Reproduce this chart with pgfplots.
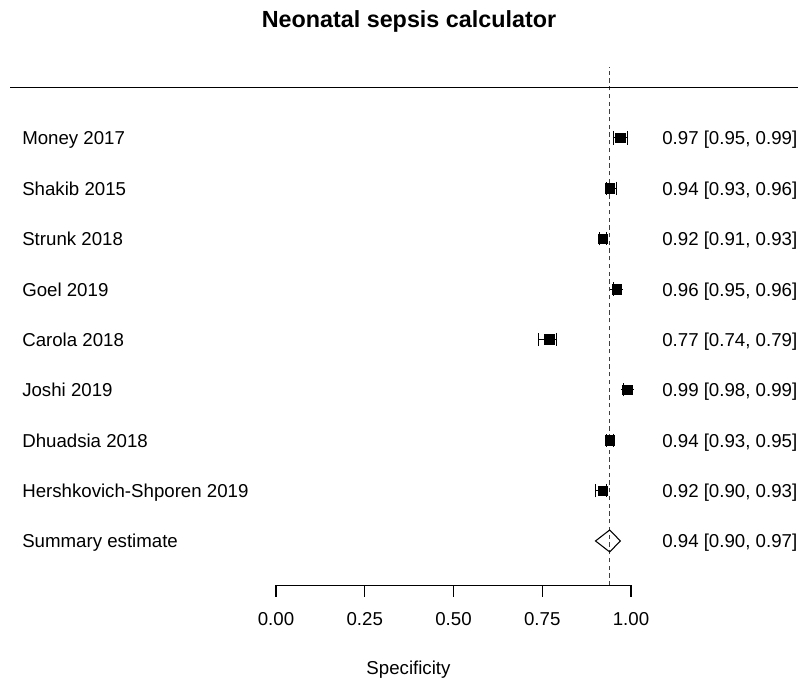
\documentclass[border=0pt]{standalone}
\usepackage{fontspec}
\setmainfont{Liberation Sans}
\usepackage{pgfplots}
\pgfplotsset{compat=1.18}
\usepackage{pgfplotstable}

% y = row (9 = top), est, lower, upper
\pgfplotstableread{
y est lo hi
9 0.97 0.95 0.99
8 0.94 0.93 0.96
7 0.92 0.91 0.93
6 0.96 0.95 0.96
5 0.77 0.74 0.79
4 0.99 0.98 0.99
3 0.94 0.93 0.95
2 0.92 0.90 0.93
}\studies

\newcommand{\lab}{\fontsize{14}{16.8}\selectfont}

\begin{document}
\begin{tikzpicture}
\begin{axis}[
  scale only axis,
  width=266.25pt, height=373.3pt,
  xmin=0, xmax=1, ymin=0.12, ymax=10,
  axis x line=bottom, axis y line=none,
  x axis line style={-, line width=0.8pt},
  xtick={0,0.25,0.5,0.75,1},
  xticklabels={0.00,0.25,0.50,0.75,1.00},
  tick align=outside, major tick length=8.6pt,
  tick style={black, line width=0.8pt},
  xticklabel style={font=\lab, yshift=-8pt},
  clip=false,
]
% reference line at summary estimate
\addplot[black!75, line width=1.1pt, dash pattern=on 3.2pt off 2.6pt] coordinates {(0.94,0.12) (0.94,10.41)};
% top rule
\addplot[black, line width=0.8pt] coordinates {(-0.7493,10) (1.4704,10)};

\addplot[black, only marks, mark=square*, mark size=3.6pt,
  error bars/.cd, x dir=both, x explicit,
  error bar style={line width=0.8pt, black},
  error mark options={black, rotate=90, mark size=5pt, line width=0.8pt}]
  table[x=est, y=y,
    x error plus expr=\thisrow{hi}-\thisrow{est},
    x error minus expr=\thisrow{est}-\thisrow{lo}] {\studies};

% summary diamond
\addplot[black, line width=0.8pt, mark=none] coordinates {(0.90,1) (0.94,1.218) (0.97,1) (0.94,0.782)} -- cycle;

\begin{scope}[every node/.style={font=\lab, inner sep=0pt}]
\node[anchor=base west, yshift=-5.25pt] at (axis cs:-0.7155,9) {Money 2017};
\node[anchor=base west, yshift=-5.25pt] at (axis cs:-0.7155,8) {Shakib 2015};
\node[anchor=base west, yshift=-5.25pt] at (axis cs:-0.7155,7) {Strunk 2018};
\node[anchor=base west, yshift=-5.25pt] at (axis cs:-0.7155,6) {Goel 2019};
\node[anchor=base west, yshift=-5.25pt] at (axis cs:-0.7155,5) {Carola 2018};
\node[anchor=base west, yshift=-5.25pt] at (axis cs:-0.7155,4) {Joshi 2019};
\node[anchor=base west, yshift=-5.25pt] at (axis cs:-0.7155,3) {Dhuadsia 2018};
\node[anchor=base west, yshift=-5.25pt] at (axis cs:-0.7155,2) {Hershkovich-Shporen 2019};
\node[anchor=base west, yshift=-5.25pt] at (axis cs:-0.7155,1) {Summary estimate};

\node[anchor=base east, yshift=-5.25pt] at (axis cs:1.469,9) {0.97 [0.95, 0.99]};
\node[anchor=base east, yshift=-5.25pt] at (axis cs:1.469,8) {0.94 [0.93, 0.96]};
\node[anchor=base east, yshift=-5.25pt] at (axis cs:1.469,7) {0.92 [0.91, 0.93]};
\node[anchor=base east, yshift=-5.25pt] at (axis cs:1.469,6) {0.96 [0.95, 0.96]};
\node[anchor=base east, yshift=-5.25pt] at (axis cs:1.469,5) {0.77 [0.74, 0.79]};
\node[anchor=base east, yshift=-5.25pt] at (axis cs:1.469,4) {0.99 [0.98, 0.99]};
\node[anchor=base east, yshift=-5.25pt] at (axis cs:1.469,3) {0.94 [0.93, 0.95]};
\node[anchor=base east, yshift=-5.25pt] at (axis cs:1.469,2) {0.92 [0.90, 0.93]};
\node[anchor=base east, yshift=-5.25pt] at (axis cs:1.469,1) {0.94 [0.90, 0.97]};

\node[anchor=base] at (axis cs:0.3732,-1.655) {Specificity};
\node[anchor=base, font=\fontsize{17.5}{21}\selectfont\bfseries] at (axis cs:0.3746,11.202) {Neonatal sepsis calculator};
\end{scope}

\coordinate (bl) at (axis cs:-0.7775,-1.754);
\coordinate (tr) at (axis cs:1.4704,11.738);
\end{axis}
\pgfresetboundingbox
\path[use as bounding box] (bl) rectangle (tr);
\end{tikzpicture}
\end{document}
